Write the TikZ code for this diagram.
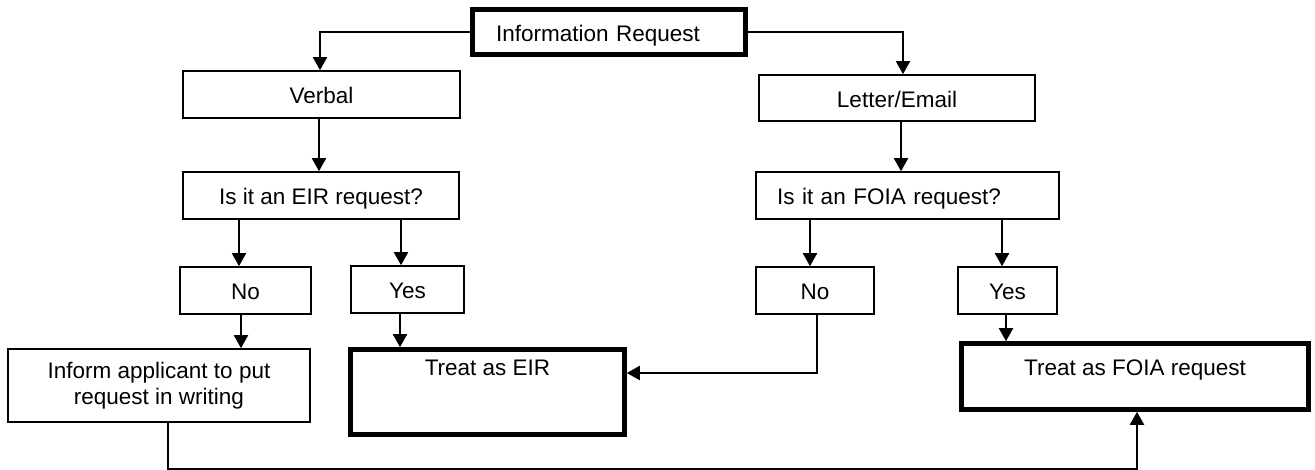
\documentclass[tikz,border=0pt]{standalone}
\usepackage{fontspec}
\setmainfont{Liberation Sans}
\usetikzlibrary{arrows.meta}
\begin{document}
\begin{tikzpicture}[x=1pt,y=-1pt,
  every node/.style={font=\fontsize{22.5}{26}\selectfont},
  box/.style={draw, line width=1.6pt, inner sep=0pt, align=center,
    text height=19pt, text depth=0pt},
  heavybox/.style={draw, line width=4.6pt, inner sep=0pt, align=center},
  link/.style={line width=2pt, -{Triangle[length=13pt,width=14pt]}}]
\useasboundingbox (0,0) rectangle (1315,470);

% boxes
\node[heavybox, minimum width=273pt, minimum height=45.5pt, inner xsep=23.5pt,
  text width=226pt, align=left, text height=19pt, text depth=0pt]
  (info) at (609,32) {Information Request};
\node[box, minimum width=277pt, minimum height=47pt] (verbal) at (321.5,94.5) {Verbal};
\node[box, minimum width=276pt, minimum height=46pt] (letter) at (897,98) {Letter/Email};
\node[box, minimum width=276pt, minimum height=47pt] (eirq) at (321,195.5) {Is it an EIR request?};
\node[box, minimum width=303pt, minimum height=47pt, inner xsep=21pt,
  text width=261pt, align=left] (foiaq) at (907.5,195.5) {Is it an FOIA request?};
\node[box, minimum width=131pt, minimum height=47pt] (noL) at (245.5,290.5) {No};
\node[box, minimum width=113pt, minimum height=47pt] (yesL) at (407.5,289.5) {Yes};
\node[box, minimum width=118pt, minimum height=47pt] (noR) at (815,290.5) {No};
\node[box, minimum width=99pt, minimum height=47pt] (yesR) at (1007.5,290.5) {Yes};
\node[box, minimum width=302pt, minimum height=73pt, text height=, text depth=]
  (inform) at (159,385.5) {Inform applicant to put\\request in writing};
\node[heavybox, minimum width=274pt, minimum height=85pt, text height=16pt, text depth=50pt]
  (eir) at (487.5,392) {Treat as EIR};
\node[heavybox, minimum width=347pt, minimum height=66pt, text height=16pt, text depth=17pt]
  (foia) at (1135,376.5) {Treat as FOIA request};

\coordinate (floor) at (0,469);

% connectors
\draw[link] (info.west) -| ([xshift=-1.5pt]verbal.north);
\draw[link] (info.east) -| ([xshift=6pt]letter.north);
\draw[link] ([xshift=-2.5pt]verbal.south) -- ([xshift=-2.5pt]verbal.south |- eirq.north);
\draw[link] ([xshift=4pt]letter.south) -- ([xshift=4pt]letter.south |- foiaq.north);
\draw[link] ([xshift=-6.5pt]noL.north |- eirq.south) -- ([xshift=-6.5pt]noL.north);
\draw[link] ([xshift=-6.5pt]yesL.north |- eirq.south) -- ([xshift=-6.5pt]yesL.north);
\draw[link] ([xshift=-5pt]noR.north |- foiaq.south) -- ([xshift=-5pt]noR.north);
\draw[link] ([xshift=-5.5pt]yesR.north |- foiaq.south) -- ([xshift=-5.5pt]yesR.north);
\draw[link] ([xshift=-4.5pt]noL.south) -- ([xshift=-4.5pt]noL.south |- inform.north);
\draw[link] ([xshift=-7.5pt]yesL.south) -- ([xshift=-7.5pt]yesL.south |- eir.north);
\draw[link] ([xshift=-1.5pt]yesR.south) -- ([xshift=-1.5pt]yesR.south |- foia.north);
\draw[link] ([xshift=2pt]noR.south) |- ([yshift=19pt]eir.east);
\draw[link] ([xshift=9pt]inform.south) |- ([xshift=2pt]foia.south |- floor)
  -- ([xshift=2pt]foia.south);
\end{tikzpicture}
\end{document}
